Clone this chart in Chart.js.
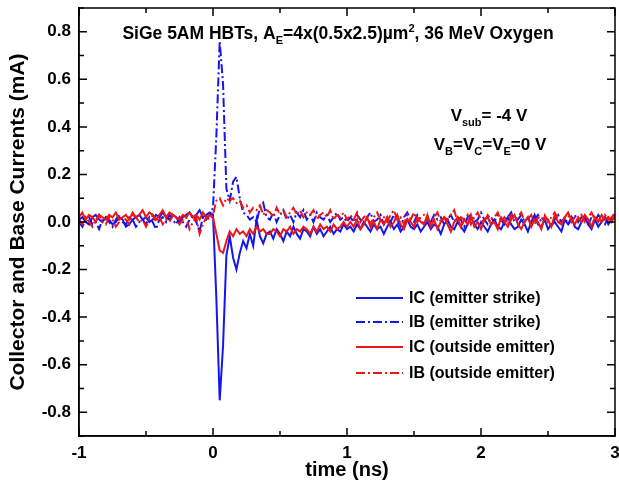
<!DOCTYPE html>
<html>
<head>
<meta charset="utf-8">
<script src="https://cdn.jsdelivr.net/npm/chart.js@4.4.1/dist/chart.umd.min.js"></script>
<style>
  html, body { margin: 0; padding: 0; background: #fff; }
  #wrap { width: 619px; height: 489px; }
</style>
</head>
<body>
<div id="wrap"><canvas id="transient" width="619" height="489"></canvas></div>
<script>
// sample times (ns)
const timeNs = [
  -1,-0.975,-0.95,-0.925,-0.9,-0.875,-0.85,-0.825,-0.8,-0.775,
  -0.75,-0.725,-0.7,-0.675,-0.65,-0.625,-0.6,-0.575,-0.55,-0.525,
  -0.5,-0.475,-0.45,-0.425,-0.4,-0.375,-0.35,-0.325,-0.3,-0.275,
  -0.25,-0.225,-0.2,-0.175,-0.15,-0.125,-0.1,-0.075,-0.05,-0.025,
  0,0.025,0.05,0.075,0.1,0.125,0.15,0.175,0.2,0.225,
  0.25,0.275,0.3,0.325,0.35,0.375,0.4,0.425,0.45,0.475,
  0.5,0.525,0.55,0.575,0.6,0.625,0.65,0.675,0.7,0.725,
  0.75,0.775,0.8,0.825,0.85,0.875,0.9,0.925,0.95,0.975,
  1,1.025,1.05,1.075,1.1,1.125,1.15,1.175,1.2,1.225,
  1.25,1.275,1.3,1.325,1.35,1.375,1.4,1.425,1.45,1.475,
  1.5,1.525,1.55,1.575,1.6,1.625,1.65,1.675,1.7,1.725,
  1.75,1.775,1.8,1.825,1.85,1.875,1.9,1.925,1.95,1.975,
  2,2.025,2.05,2.075,2.1,2.125,2.15,2.175,2.2,2.225,
  2.25,2.275,2.3,2.325,2.35,2.375,2.4,2.425,2.45,2.475,
  2.5,2.525,2.55,2.575,2.6,2.625,2.65,2.675,2.7,2.725,
  2.75,2.775,2.8,2.825,2.85,2.875,2.9,2.925,2.95,2.975,
  3
];

// IC, emitter strike (mA)
const icEmitter = [
  0.01,0.02,0.00,-0.01,0.02,0.03,0.01,0.00,0.02,0.01,
  -0.01,0.00,0.02,0.01,-0.02,-0.01,0.01,0.02,0.03,0.01,
  0.02,0.00,0.01,0.03,0.02,0.04,0.02,0.01,0.03,0.02,
  0.00,0.02,0.03,0.04,0.02,0.03,0.05,0.02,0.03,0.04,
  0.03,-0.32,-0.75,-0.52,-0.14,-0.06,-0.15,-0.20,-0.13,-0.08,
  -0.11,-0.05,-0.10,0.01,-0.06,-0.09,-0.05,
  -0.04,-0.07,-0.03,-0.05,-0.08,-0.04,-0.06,-0.02,-0.05,-0.07,
  -0.03,-0.04,-0.06,-0.02,-0.05,-0.03,-0.06,-0.04,-0.02,-0.05,
  -0.03,-0.04,-0.01,-0.03,
  -0.02,-0.04,-0.01,-0.03,0.00,-0.02,-0.04,-0.01,-0.03,-0.02,
  -0.05,-0.02,0.00,-0.03,-0.01,-0.04,-0.02,0.01,-0.02,-0.03,
  -0.01,-0.04,-0.02,0.00,-0.03,-0.01,-0.02,-0.05,-0.01,0.01,
  -0.02,-0.03,0.00,-0.02,-0.04,-0.01,0.02,-0.01,-0.03,0.00,
  -0.02,-0.04,-0.01,0.01,-0.02,-0.03,0.00,0.02,-0.01,-0.03,
  -0.02,0.01,-0.01,-0.04,0.00,0.03,-0.01,-0.02,0.01,-0.03,
  -0.01,0.00,-0.02,-0.04,0.01,-0.01,0.02,-0.02,-0.03,0.00,
  0.02,-0.01,-0.03,0.01,-0.02,0.00,0.02,-0.01,0.01,0.02
];

// IB, emitter strike (mA)
const ibEmitter = [
  0.00,-0.02,0.01,0.02,-0.01,0.00,-0.03,0.01,0.02,0.00,
  -0.02,0.01,0.03,0.00,-0.01,0.02,0.01,-0.02,0.00,0.01,
  -0.01,0.02,0.00,-0.03,0.01,0.02,0.00,0.03,0.01,-0.01,
  0.02,0.00,-0.02,0.01,0.03,0.00,-0.04,0.02,0.01,0.03,
  0.06,0.36,0.76,0.58,0.14,0.09,0.17,0.19,0.10,0.04,
  0.03,0.01,0.02,0.00,0.06,0.08,0.02,
  0.01,0.04,0.00,0.03,0.05,0.01,0.03,0.00,0.04,0.02,
  0.05,0.01,0.03,0.00,0.04,0.02,0.01,0.03,0.00,0.02,
  0.04,0.01,0.02,0.00,
  0.02,0.00,0.03,0.01,-0.01,0.02,0.04,0.00,0.01,0.03,
  -0.01,0.02,0.00,0.03,0.01,-0.02,0.02,0.04,0.01,0.00,
  0.03,0.01,-0.01,0.02,0.00,0.03,0.01,0.02,-0.01,0.01,
  0.03,0.00,0.02,0.01,-0.02,0.02,0.03,0.00,0.01,0.04,
  0.01,-0.01,0.02,0.00,0.03,0.01,-0.01,0.02,0.04,0.00,
  0.01,0.03,0.00,0.02,-0.01,0.01,0.03,0.00,0.02,0.01,
  -0.02,0.01,0.03,0.00,0.02,-0.01,0.01,0.03,0.00,0.02,
  0.01,-0.01,0.02,0.00,0.03,0.01,-0.01,0.02,0.01,0.03
];

// IC, outside emitter (mA)
const icOutside = [
  0.02,0.04,0.01,0.03,0.02,0.00,0.03,0.02,0.01,0.03,
  0.02,0.04,0.01,0.02,0.03,0.01,0.04,0.02,0.03,0.05,
  0.02,0.04,0.03,0.01,0.03,0.05,0.02,0.04,0.03,0.02,
  0.01,0.03,0.02,0.04,0.02,0.03,0.01,0.04,0.02,0.03,
  0.02,-0.05,-0.12,-0.13,-0.08,-0.04,-0.06,-0.03,-0.05,-0.04,
  -0.06,-0.03,-0.05,-0.02,-0.04,-0.03,-0.05,
  -0.05,-0.03,-0.04,-0.06,-0.03,-0.04,-0.02,-0.05,-0.03,-0.04,
  -0.02,-0.03,-0.05,-0.02,-0.04,-0.01,-0.03,-0.02,-0.04,-0.01,
  -0.03,-0.02,0.00,-0.02,
  0.00,-0.02,0.01,-0.03,-0.01,0.02,-0.02,0.00,-0.03,0.01,
  -0.01,0.02,-0.02,0.00,0.03,-0.01,-0.03,0.01,0.00,-0.02,
  0.02,0.00,-0.01,0.03,-0.02,0.01,-0.03,0.00,0.02,-0.01,
  -0.04,0.00,0.02,-0.02,0.01,-0.01,0.03,-0.02,0.00,-0.03,
  0.01,0.02,-0.01,0.00,-0.03,0.02,0.00,-0.02,0.01,0.03,
  -0.01,-0.03,0.00,0.02,-0.02,0.01,0.00,-0.03,0.02,0.01,
  -0.02,0.03,0.00,-0.01,0.02,0.04,0.01,-0.01,0.02,0.00,
  0.03,0.01,-0.02,0.02,0.00,0.03,0.01,0.02,0.00,0.03
];

// IB, outside emitter (mA)
const ibOutside = [
  0.01,-0.01,0.02,0.00,-0.02,0.01,0.03,0.00,-0.01,0.02,
  0.01,-0.02,0.00,0.02,0.01,-0.01,0.03,0.02,0.00,0.01,
  -0.02,0.01,0.03,0.00,0.02,-0.01,0.01,0.00,0.03,0.02,
  -0.01,0.01,0.02,-0.03,0.00,0.02,-0.05,-0.01,0.02,0.01,
  0.03,0.09,0.10,0.07,0.10,0.09,0.10,0.08,0.09,0.06,
  0.07,0.04,0.06,0.05,0.07,0.03,0.05,
  0.04,0.02,0.06,0.03,0.05,0.02,0.04,0.06,0.03,0.05,
  0.02,0.04,0.03,0.05,0.01,0.03,0.04,0.02,0.05,0.01,
  0.03,0.02,0.04,0.01,
  0.03,0.01,0.04,0.00,0.02,0.03,-0.01,0.02,0.04,0.01,
  0.02,0.00,0.03,0.05,0.01,0.02,-0.01,0.03,0.01,0.04,
  0.00,0.02,0.03,0.01,-0.01,0.02,0.04,0.00,0.02,0.01,
  0.03,0.05,0.00,0.02,0.01,0.03,-0.01,0.02,0.04,0.01,
  0.00,0.03,0.01,0.02,0.04,0.00,0.02,-0.01,0.03,0.01,
  0.02,0.04,0.00,0.01,0.03,-0.01,0.02,0.01,0.03,0.00,
  0.02,0.04,0.01,-0.01,0.02,0.03,0.00,0.02,0.01,0.03,
  0.00,0.02,0.04,0.01,0.02,0.00,0.03,0.01,0.02,0.04
];

const seriesLabels = ['IC (emitter strike)', 'IB (emitter strike)', 'IC (outside emitter)', 'IB (outside emitter)'];
const xTicks = [-1, 0, 1, 2, 3];
const xMinor = [-0.5, 0.5, 1.5, 2.5];
const yTicks = [-0.8, -0.6, -0.4, -0.2, 0, 0.2, 0.4, 0.6, 0.8];
const yMinor = [-0.9, -0.7, -0.5, -0.3, -0.1, 0.1, 0.3, 0.5, 0.7, 0.9];

const FONT = "'Liberation Sans', Arial, sans-serif";
const BLUE = '#1515ee';
const RED = '#ee1515';
const DASHDOT = [9, 3, 2, 3];

function pts(vals) {
  return timeNs.map((t, i) => ({ x: t, y: vals[i] }));
}

// text with sub/superscripts, centred on cx
function drawRich(ctx, parts, cx, cy, size) {
  const small = Math.round(size * 0.62);
  let total = 0;
  parts.forEach(p => {
    ctx.font = 'bold ' + (p[1] ? small : size) + 'px ' + FONT;
    p.w = ctx.measureText(p[0]).width;
    total += p.w;
  });
  let x = cx - total / 2;
  const base = cy + size * 0.36;
  ctx.textAlign = 'left';
  ctx.textBaseline = 'alphabetic';
  parts.forEach(p => {
    ctx.font = 'bold ' + (p[1] ? small : size) + 'px ' + FONT;
    let y = base;
    if (p[1] === 1) y += size * 0.28;
    if (p[1] === 2) y -= size * 0.42;
    ctx.fillText(p[0], x, y);
    x += p.w;
  });
}

const decorPlugin = {
  id: 'decor',
  afterDatasetsDraw(chart) {
    const ctx = chart.ctx;
    const a = chart.chartArea;
    const xs = chart.scales.x, ys = chart.scales.y;
    ctx.save();
    ctx.strokeStyle = '#000';
    ctx.lineWidth = 1.5;
    ctx.strokeRect(a.left, a.top, a.right - a.left, a.bottom - a.top);
    ctx.beginPath();
    const tick = (vals, len) => {
      vals.forEach(v => {
        const px = xs.getPixelForValue(v);
        ctx.moveTo(px, a.bottom); ctx.lineTo(px, a.bottom - len);
        ctx.moveTo(px, a.top); ctx.lineTo(px, a.top + len);
      });
    };
    const ytick = (vals, len) => {
      vals.forEach(v => {
        const py = ys.getPixelForValue(v);
        ctx.moveTo(a.left, py); ctx.lineTo(a.left + len, py);
        ctx.moveTo(a.right, py); ctx.lineTo(a.right - len, py);
      });
    };
    tick(xTicks, 8); tick(xMinor, 5);
    ytick(yTicks, 8); ytick(yMinor, 5);
    ctx.stroke();

    // annotations
    ctx.fillStyle = '#000';
    drawRich(ctx, [['SiGe 5AM HBTs, A', 0], ['E', 1], ['=4x(0.5x2.5)\u00b5m', 0], ['2', 2], [', 36 MeV Oxygen', 0]], 338, 33, 17.5);
    drawRich(ctx, [['V', 0], ['sub', 1], ['= -4 V', 0]], 489, 115, 17);
    drawRich(ctx, [['V', 0], ['B', 1], ['=V', 0], ['C', 1], ['=V', 0], ['E', 1], ['=0 V', 0]], 490, 144, 17);

    // legend
    const rows = [298, 322, 347, 373];
    chart.data.datasets.forEach((ds, i) => {
      const y = rows[i];
      ctx.strokeStyle = ds.borderColor;
      ctx.lineWidth = 2;
      ctx.setLineDash(ds.borderDash || []);
      ctx.beginPath();
      ctx.moveTo(356, y); ctx.lineTo(403, y);
      ctx.stroke();
      ctx.setLineDash([]);
      ctx.fillStyle = '#000';
      ctx.font = 'bold 16px ' + FONT;
      ctx.textAlign = 'left';
      ctx.textBaseline = 'middle';
      ctx.fillText(ds.label, 409, y + 1);
    });
    ctx.restore();
  }
};

new Chart(document.getElementById('transient'), {
  type: 'line',
  data: {
    datasets: [
      { label: seriesLabels[0], data: pts(icEmitter), borderColor: BLUE, borderWidth: 2, order: 4 },
      { label: seriesLabels[1], data: pts(ibEmitter), borderColor: BLUE, borderWidth: 2, borderDash: DASHDOT, order: 3 },
      { label: seriesLabels[2], data: pts(icOutside), borderColor: RED, borderWidth: 2, order: 2 },
      { label: seriesLabels[3], data: pts(ibOutside), borderColor: RED, borderWidth: 2, borderDash: DASHDOT, order: 1 }
    ]
  },
  options: {
    responsive: false,
    animation: false,
    elements: { point: { radius: 0 }, line: { tension: 0, fill: false } },
    layout: { padding: { top: 8, right: 4, left: 0, bottom: 0 } },
    plugins: { legend: { display: false }, tooltip: { enabled: false } },
    scales: {
      x: {
        type: 'linear', min: -1, max: 3,
        afterBuildTicks: s => { s.ticks = xTicks.map(v => ({ value: v })); },
        afterFit: s => { s.height = 53; s.paddingLeft = 0; s.paddingRight = 0; },
        grid: { display: false, drawTicks: false },
        border: { display: true, color: '#000', width: 1.5 },
        ticks: { color: '#000', padding: 7, maxRotation: 0, font: { family: FONT, size: 17, weight: 'bold' }, callback: v => String(v) },
        title: { display: true, text: 'time (ns)', color: '#000', padding: { top: 0, bottom: 7 }, font: { family: FONT, size: 20, weight: 'bold' } }
      },
      y: {
        type: 'linear', min: -0.9, max: 0.9,
        afterBuildTicks: s => { s.ticks = yTicks.map(v => ({ value: v })); },
        afterFit: s => { s.width = 79; s.paddingTop = 0; s.paddingBottom = 0; },
        grid: { display: false, drawTicks: false },
        border: { display: true, color: '#000', width: 1.5 },
        ticks: { color: '#000', padding: 8, font: { family: FONT, size: 17, weight: 'bold' }, callback: v => v.toFixed(1) },
        title: { display: true, text: 'Collector and Base Currents (mA)', color: '#000', padding: { top: 6, bottom: 0 }, font: { family: FONT, size: 21, weight: 'bold' } }
      }
    }
  },
  plugins: [decorPlugin]
});
</script>
</body>
</html>
